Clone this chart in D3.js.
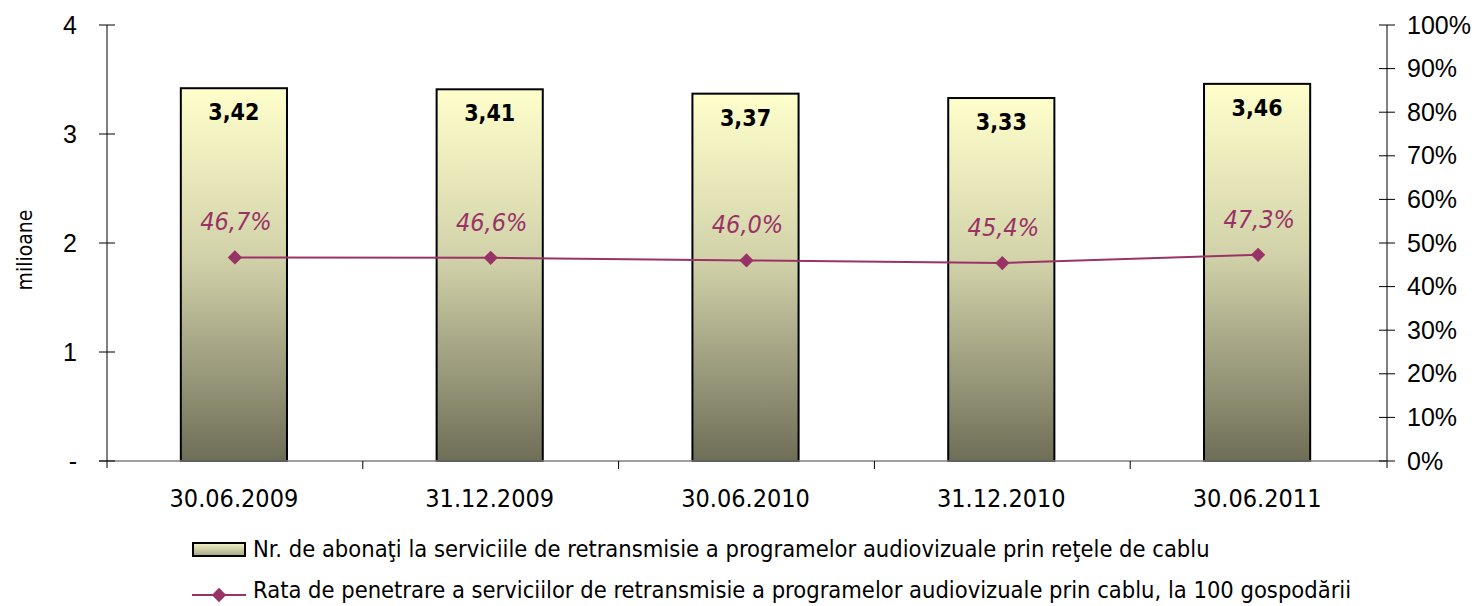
<!DOCTYPE html>
<html>
<head>
<meta charset="utf-8">
<script src="https://cdn.jsdelivr.net/npm/d3@7"></script>
<style>
	html, body { margin: 0; padding: 0; background: #fff; }
	svg { display: block; font-family: "DejaVu Sans Condensed", "DejaVu Sans", sans-serif; font-stretch: condensed; }
</style>
</head>
<body>
<div id="container"></div>
<script>
////////// DATA

var dates = ["30.06.2009", "31.12.2009", "30.06.2010", "31.12.2010", "30.06.2011"];
var subscribers = [3.42, 3.41, 3.37, 3.33, 3.46]; // milioane
var penetration = [46.7, 46.6, 46.0, 45.4, 47.3]; // %
var leftTicks = [0, 1, 2, 3, 4];
var rightTicks = [0, 10, 20, 30, 40, 50, 60, 70, 80, 90, 100];
var legendBars = "Nr. de abonaţi la serviciile de retransmisie a programelor audiovizuale prin reţele de cablu";
var legendLine = "Rata de penetrare a serviciilor de retransmisie a programelor audiovizuale prin cablu, la 100 gospodării";
var yTitle = "milioane";

////////// CHART

var gWidth = 1476;
var gHeight = 606;
var lineColor = "#993366";

var svg = d3.select("#container").append("svg")
	.attr("width", gWidth)
	.attr("height", gHeight);

// gradient for the bars
var defs = svg.append("defs");
var grad = defs.append("linearGradient")
	.attr("id", "barGrad")
	.attr("x1", 0).attr("y1", 0).attr("x2", 0).attr("y2", 1);
grad.append("stop").attr("offset", "0%").attr("stop-color", "#ffffcc");
grad.append("stop").attr("offset", "45%").attr("stop-color", "#d2d2aa");
grad.append("stop").attr("offset", "100%").attr("stop-color", "#6e6e58");

var gradH = defs.append("linearGradient")
	.attr("id", "legendGrad")
	.attr("x1", 0).attr("y1", 0).attr("x2", 0).attr("y2", 1);
gradH.append("stop").attr("offset", "0%").attr("stop-color", "#f4f4c8");
gradH.append("stop").attr("offset", "100%").attr("stop-color", "#a5a585");

// scales
var x = d3.scaleBand()
	.domain(dates)
	.range([107, 1386])
	.paddingInner(0)
	.paddingOuter(0);

var yLeft = d3.scaleLinear().domain([0, 4]).range([461, 25]);
var yRight = d3.scaleLinear().domain([0, 100]).range([461, 25]);

var barW = x.bandwidth() * 0.415;

// bars
svg.selectAll(".bar").data(subscribers).enter().append("rect")
	.attr("class", "bar")
	.attr("x", function(d, i) { return x(dates[i]) + x.bandwidth() / 2 - barW / 2 - 1; })
	.attr("y", function(d) { return yLeft(d); })
	.attr("width", barW)
	.attr("height", function(d) { return yLeft(0) - yLeft(d); })
	.attr("fill", "url(#barGrad)")
	.attr("stroke", "#000")
	.attr("stroke-width", 2);

// bar labels
svg.selectAll(".barLabel").data(subscribers).enter().append("text")
	.attr("class", "barLabel")
	.attr("x", function(d, i) { return x(dates[i]) + x.bandwidth() / 2 - 1; })
	.attr("y", function(d) { return yLeft(d) + 32; })
	.attr("text-anchor", "middle")
	.style("font-size", "23px")
	.style("font-weight", "bold")
	.text(function(d) { return d.toFixed(2).replace(".", ","); });

// X axis line (drawn in gray like the reference)
svg.append("line")
	.attr("x1", 99).attr("x2", 1386)
	.attr("y1", 461).attr("y2", 461)
	.style("stroke", "#808080").style("stroke-width", "1.5px");

// category ticks
var xTickPos = d3.range(1, dates.length).map(function(i) { return x(dates[i]); });
svg.selectAll(".xTick").data(xTickPos).enter().append("line")
	.attr("class", "xTick")
	.attr("x1", function(d) { return d; })
	.attr("x2", function(d) { return d; })
	.attr("y1", 461).attr("y2", 469)
	.style("stroke", "#000").style("stroke-width", "1px");

// X labels
svg.selectAll(".xLabel").data(dates).enter().append("text")
	.attr("class", "xLabel")
	.attr("x", function(d) { return x(d) + x.bandwidth() / 2 - 1; })
	.attr("y", 507)
	.attr("text-anchor", "middle")
	.style("font-size", "25px")
	.text(function(d) { return d; });

// left axis
var leftAxis = d3.axisLeft(yLeft)
	.tickValues(leftTicks)
	.tickSize(0)
	.tickPadding(30)
	.tickFormat(function(d) { return d === 0 ? "-" : d; });
var gl = svg.append("g").attr("transform", "translate(107,0)").call(leftAxis);
gl.select(".domain").remove();
gl.selectAll("text").style("font-size", "25px").style("font-family", null).attr("fill", "#000");
svg.append("line")
	.attr("x1", 107).attr("x2", 107)
	.attr("y1", 25).attr("y2", 468)
	.style("stroke", "#000").style("stroke-width", "1px");
svg.selectAll(".yTickL").data(leftTicks).enter().append("line")
	.attr("class", "yTickL")
	.attr("x1", 99).attr("x2", 115)
	.attr("y1", function(d) { return yLeft(d); })
	.attr("y2", function(d) { return yLeft(d); })
	.style("stroke", "#000").style("stroke-width", "1px");

// right axis
var rightAxis = d3.axisRight(yRight)
	.tickValues(rightTicks)
	.tickSize(0)
	.tickPadding(20)
	.tickFormat(function(d) { return d + "%"; });
var gr = svg.append("g").attr("transform", "translate(1387,0)").call(rightAxis);
gr.select(".domain").remove();
gr.selectAll("text").style("font-size", "25px").style("font-family", null).attr("fill", "#000");
svg.append("line")
	.attr("x1", 1387).attr("x2", 1387)
	.attr("y1", 25).attr("y2", 468)
	.style("stroke", "#000").style("stroke-width", "1px");
svg.selectAll(".yTickR").data(rightTicks).enter().append("line")
	.attr("class", "yTickR")
	.attr("x1", 1379).attr("x2", 1395)
	.attr("y1", function(d) { return yRight(d); })
	.attr("y2", function(d) { return yRight(d); })
	.style("stroke", "#000").style("stroke-width", "1px");

// left axis title
svg.append("text")
	.attr("transform", "translate(32,250) rotate(-90)")
	.attr("text-anchor", "middle")
	.style("font-size", "21px")
	.text(yTitle);

// penetration line
var line = d3.line()
	.x(function(d, i) { return x(dates[i]) + x.bandwidth() / 2; })
	.y(function(d) { return yRight(d); });

svg.append("path")
	.datum(penetration)
	.attr("d", line)
	.attr("fill", "none")
	.attr("stroke", lineColor)
	.attr("stroke-width", 2);

var diamond = d3.symbol().type(d3.symbolDiamond2).size(130);
svg.selectAll(".marker").data(penetration).enter().append("path")
	.attr("class", "marker")
	.attr("d", diamond)
	.attr("transform", function(d, i) { return "translate(" + (x(dates[i]) + x.bandwidth() / 2) + "," + yRight(d) + ")"; })
	.attr("fill", lineColor);

svg.selectAll(".pctLabel").data(penetration).enter().append("text")
	.attr("class", "pctLabel")
	.attr("x", function(d, i) { return x(dates[i]) + x.bandwidth() / 2 + 1; })
	.attr("y", function(d) { return yRight(d) - 27; })
	.attr("text-anchor", "middle")
	.style("font-size", "25px")
	.style("font-style", "italic")
	.attr("fill", lineColor)
	.text(function(d) { return d.toFixed(1).replace(".", ",") + "%"; });

// legend
svg.append("rect")
	.attr("x", 193).attr("y", 543)
	.attr("width", 52).attr("height", 13)
	.attr("fill", "url(#legendGrad)")
	.attr("stroke", "#000").attr("stroke-width", 2);
svg.append("text")
	.attr("x", 253).attr("y", 557)
	.style("font-size", "23.5px")
	.text(legendBars);

svg.append("line")
	.attr("x1", 192).attr("x2", 246)
	.attr("y1", 595).attr("y2", 595)
	.attr("stroke", lineColor).attr("stroke-width", 2);
svg.append("path")
	.attr("d", diamond)
	.attr("transform", "translate(219,595)")
	.attr("fill", lineColor);
svg.append("text")
	.attr("x", 253).attr("y", 598)
	.style("font-size", "23.5px")
	.text(legendLine);
</script>
</body>
</html>
